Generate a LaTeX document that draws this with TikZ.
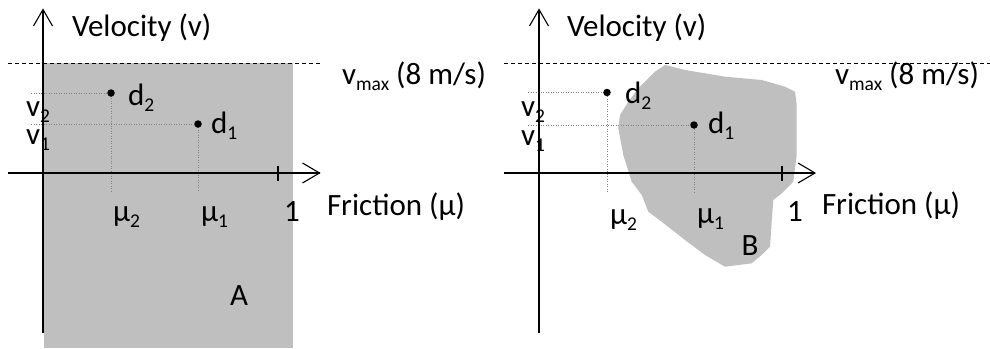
\documentclass[tikz,border=0pt]{standalone}
\usepackage{fontspec}
\setmainfont{Carlito}
\usetikzlibrary{arrows.meta}
\definecolor{areagray}{RGB}{191,191,191}
\definecolor{dotgray}{RGB}{130,130,130}
\newcommand\lowsub[1]{\raisebox{-6pt}{\fontsize{19.5}{19.5}\selectfont #1}}
\begin{document}
\begin{tikzpicture}[x=1pt,y=-1pt,
  font=\fontsize{31}{36}\selectfont,
  axis/.style={line width=1.1pt},
  barb/.style={line width=1.1pt,line join=miter},
  vmaxline/.style={line width=1pt,dash pattern=on 4pt off 3pt},
  guide/.style={dotgray,line width=0.8pt,dash pattern=on 1pt off 1.5pt},
  tickmark/.style={line width=1.6pt},
  lbl/.style={anchor=base west,inner sep=0pt,outer sep=0pt},
  datadot/.style={circle,fill=black,draw=none,inner sep=0pt,minimum size=7.5pt}]
\useasboundingbox (0,0) rectangle (990,348);
% ---------- left panel ----------
\fill[areagray] (44,63) rectangle (293,348);
\coordinate (vmaxLa) at (8,63);
\coordinate (vmaxLb) at (320,63);
\draw[vmaxline] (vmaxLa) -- (vmaxLb);
\coordinate (d2Lc) at (111,93);
\coordinate (d1Lc) at (198,124);
\coordinate (v2La) at (31,93);
\coordinate (v1La) at (31,124);
\coordinate (m2Lb) at (111,192);
\coordinate (m1Lb) at (198,192);
\draw[guide] (v2La) -- (d2Lc) -- (m2Lb);
\draw[guide] (v1La) -- (d1Lc) -- (m1Lb);
\node[datadot] (d2L) at (d2Lc) {};
\node[datadot] (d1L) at (d1Lc) {};
\coordinate (yLa) at (43,333);
\coordinate (yLb) at (43,9.5);
\coordinate (xLa) at (8,173);
\coordinate (xLb) at (319.5,173);
\draw[axis] (yLa) -- (yLb);
\draw[axis] (xLa) -- (xLb);
\draw[barb] ([shift={(-9.5,16.5)}]yLb) -- (yLb) -- ([shift={(9.5,16.5)}]yLb);
\draw[barb] ([shift={(-17,-10)}]xLb) -- (xLb) -- ([shift={(-17,10)}]xLb);
\coordinate (tLa) at (278,165.5);
\coordinate (tLb) at (278,180.5);
\draw[tickmark] (tLa) -- (tLb);
\node[lbl] (velL) at (72,36) {Velocity (v)};
\node[lbl] (vmaxL) at (342,84) {v\lowsub{max} (8 m/s)};
\node[lbl] (fricL) at (327,215) {Friction (μ)};
\node[lbl] (d2Lt) at (128,105) {d\lowsub{2}};
\node[lbl] (d1Lt) at (211,133) {d\lowsub{1}};
\node[lbl] (v2Lt) at (26,116.7) {v\lowsub{2}};
\node[lbl] (v1Lt) at (26,144) {v\lowsub{1}};
\node[lbl] (m2Lt) at (113,221) {μ\lowsub{2}};
\node[lbl] (m1Lt) at (201,221) {μ\lowsub{1}};
\node[lbl] (oneL) at (284,221.7) {1};
\node[lbl] (A) at (230,305) {A};
% ---------- right panel ----------
\fill[areagray] (665,65) -- (685,70) -- (705,73.3) -- (725,76.7) -- (761.7,80)
  -- (785,86.7) -- (795,91.7) -- (796.7,105) -- (796.7,155) -- (793.3,181.7)
  -- (781.7,193.3) -- (773.3,200) -- (771.7,221.7) -- (770,246.7) -- (761.7,255)
  -- (751.7,263.3) -- (725,266.7) -- (705,255) -- (685,240) -- (661.7,221.7)
  -- (648.3,211.7) -- (641.7,195) -- (631.7,181.7) -- (623.3,155) -- (618.3,128.3)
  -- (620,115) -- (628.3,101.7) -- (638.3,88.3) -- (655,71.7) -- cycle;
\coordinate (vmaxRa) at (504,63);
\coordinate (vmaxRb) at (990,63);
\draw[vmaxline] (vmaxRa) -- (vmaxRb);
\coordinate (d2Rc) at (607,92.5);
\coordinate (d1Rc) at (694,125);
\coordinate (v2Ra) at (528,92.5);
\coordinate (v1Ra) at (528,125);
\coordinate (m2Rb) at (607,192);
\coordinate (m1Rb) at (694,192);
\draw[guide] (v2Ra) -- (d2Rc) -- (m2Rb);
\draw[guide] (v1Ra) -- (d1Rc) -- (m1Rb);
\node[datadot] (d2R) at (d2Rc) {};
\node[datadot] (d1R) at (d1Rc) {};
\coordinate (yRa) at (539,333);
\coordinate (yRb) at (539,9.5);
\coordinate (xRa) at (504,173);
\coordinate (xRb) at (815,173);
\draw[axis] (yRa) -- (yRb);
\draw[axis] (xRa) -- (xRb);
\draw[barb] ([shift={(-9.5,16.5)}]yRb) -- (yRb) -- ([shift={(9.5,16.5)}]yRb);
\draw[barb] ([shift={(-17,-10)}]xRb) -- (xRb) -- ([shift={(-17,10)}]xRb);
\coordinate (tRa) at (782,165.5);
\coordinate (tRb) at (782,180.5);
\draw[tickmark] (tRa) -- (tRb);
\node[lbl] (velR) at (567,36) {Velocity (v)};
\node[lbl] (vmaxR) at (835,84) {v\lowsub{max} (8 m/s)};
\node[lbl] (fricR) at (822,214) {Friction (μ)};
\node[lbl] (d2Rt) at (625,103.3) {d\lowsub{2}};
\node[lbl] (d1Rt) at (708,133.3) {d\lowsub{1}};
\node[lbl] (v2Rt) at (521,116.7) {v\lowsub{2}};
\node[lbl] (v1Rt) at (521,145) {v\lowsub{1}};
\node[lbl] (m2Rt) at (610,224.5) {μ\lowsub{2}};
\node[lbl] (m1Rt) at (697,223.5) {μ\lowsub{1}};
\node[lbl] (oneR) at (787,221.7) {1};
\node[lbl] (B) at (741.7,255) {B};
\end{tikzpicture}
\end{document}
